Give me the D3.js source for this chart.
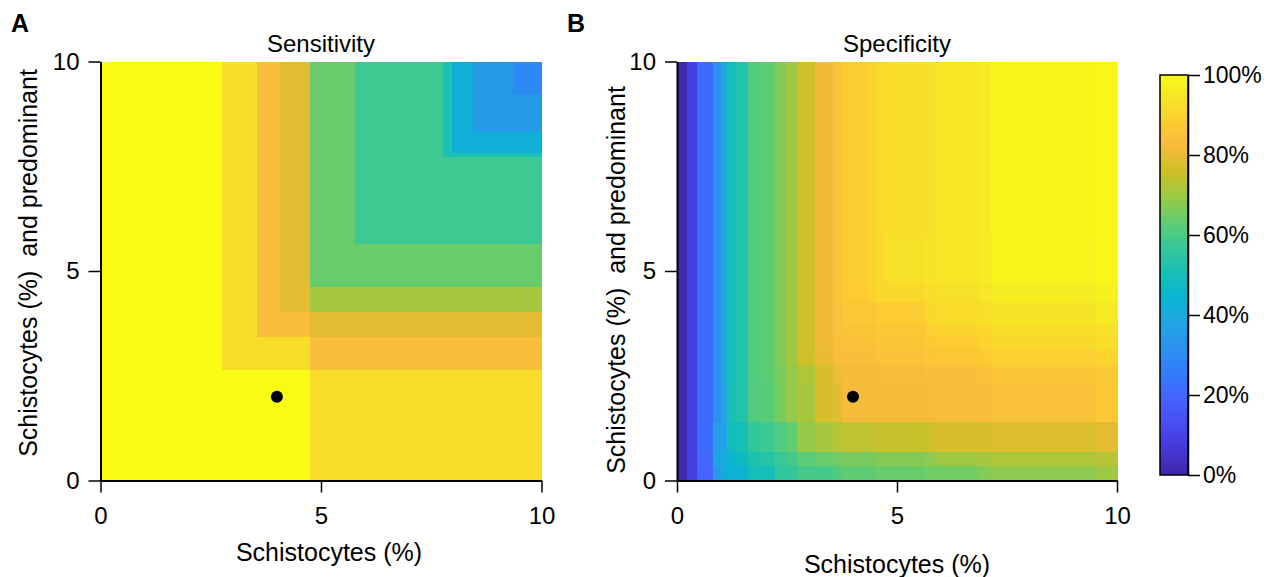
<!DOCTYPE html>
<html>
<head>
<meta charset="utf-8">
<script src="https://cdn.jsdelivr.net/npm/d3@7"></script>
<style>
  body { margin: 0; background: #fff; }
  svg text { font-family: "Liberation Sans", Arial, sans-serif; fill: #000; }
</style>
</head>
<body>
<div id="chart"></div>
<script>
// ---- data ----
// sensitivity: cell edges on each axis, values in % (rows from bottom)
const sensX = [0, 2.75, 3.56, 4.06, 4.75, 5.77, 7.77, 7.96, 8.45, 9.36, 10]
const sensY = [0, 2.64, 3.44, 4.03, 4.63, 5.65, 7.73, 7.84, 8.34, 9.24, 10]
const sensValues = [
  [100, 100, 100, 100, 92.5, 92.5, 92.5, 92.5, 92.5, 92.5],
  [100, 92.5, 92.5, 92.5, 84, 84, 84, 84, 84, 84],
  [100, 92.5, 84, 84, 79, 79, 79, 79, 79, 79],
  [100, 92.5, 84, 79, 71, 71, 71, 71, 71, 71],
  [100, 92.5, 84, 79, 64, 64, 64, 64, 64, 64],
  [100, 92.5, 84, 79, 64, 58, 58, 58, 58, 58],
  [100, 92.5, 84, 79, 64, 58, 51, 51, 51, 51],
  [100, 92.5, 84, 79, 64, 58, 51, 42, 42, 42],
  [100, 92.5, 84, 79, 64, 58, 51, 42, 35, 35],
  [100, 92.5, 84, 79, 64, 58, 51, 42, 35, 29]
]

// specificity
const specX = [0, 0.22, 0.45, 0.82, 1.01, 1.13, 1.35, 1.62, 1.92, 2.22, 2.48, 2.72, 3.13, 3.55, 3.74, 4.34, 4.53, 4.74, 5.63, 5.86, 6.84, 7.14, 9.53, 10]
const specY = [0, 0.35, 0.69, 1.42, 2.33, 2.76, 3.15, 3.43, 3.75, 4.27, 4.74, 5.86, 10]
const specValues = [
  [1, 9, 19, 34, 42, 43, 43, 50, 50, 56, 56, 59, 59, 61, 63, 63, 64, 64, 65, 65, 67, 68, 70],
  [1, 9, 20, 39, 40, 45, 47, 52, 54, 57, 59, 62, 64, 65, 66, 66, 67, 67, 68, 70, 71, 72, 73],
  [1, 9, 21, 36, 37, 49, 50, 56, 58, 61, 63, 69, 71, 73, 74, 74, 75, 75, 76, 77, 77, 78, 79],
  [1, 9, 21, 31, 38, 51, 53, 61, 62, 66, 69, 71, 77, 79, 82, 82, 82, 82, 83, 83, 83.5, 85, 86.5],
  [1, 9, 21, 31, 39, 50, 53, 61, 63, 66, 69, 72, 77, 81, 82, 82, 83, 83, 84, 84, 85, 86, 87],
  [1, 9, 21, 31, 39, 50, 53, 61, 63, 67, 70, 76, 80, 83.5, 84, 84, 85, 85, 86, 86.5, 87.5, 89, 90],
  [1, 9, 21, 31, 39, 50, 53, 61, 63, 67, 70, 76, 81, 84, 85, 85, 86, 86, 87, 88, 89.5, 91, 92.5],
  [1, 9, 21, 31, 39, 50, 53, 61, 63, 67, 70, 76, 81, 84.5, 85.5, 85.5, 86.5, 86.5, 89, 90, 91, 92.5, 93.5],
  [1, 9, 21, 31, 39, 50, 53, 61, 63, 67, 70, 76, 81, 84.5, 86.5, 86.5, 88, 88, 91.5, 92, 93, 94, 95.5],
  [1, 9, 21, 31, 39, 50, 53, 61, 63, 67, 70, 76, 81, 85, 88, 89.5, 91.5, 91.5, 92.5, 93, 94.5, 96, 97.5],
  [1, 9, 21, 31, 39, 50, 53, 61, 63, 67, 70, 76, 81, 85, 88.5, 90, 91, 93, 94, 94.5, 96, 98, 99],
  [1, 9, 21, 31, 39, 50, 53, 61, 63, 67, 70, 76, 81, 85, 88.5, 90, 91, 92.5, 93, 94.5, 96, 98.5, 99]
]

const marker = [4, 2]
const axisTicks = [0, 5, 10]
const colorTicks = [0, 20, 40, 60, 80, 100]

// parula colormap (every 4th row of the 64 entry table)
const PARULA = [
  [0.2422, 0.1504, 0.6603], [0.2706, 0.2147, 0.8364], [0.2813, 0.3006, 0.9414],
  [0.2699, 0.3892, 0.9906], [0.1963, 0.4847, 0.9892], [0.1687, 0.5703, 0.9359],
  [0.1248, 0.6459, 0.8883], [0.0297, 0.7082, 0.8163], [0.0964, 0.7500, 0.7120],
  [0.2161, 0.7843, 0.5923], [0.3909, 0.8029, 0.4354], [0.6174, 0.7876, 0.2612],
  [0.8203, 0.7498, 0.1535], [0.9728, 0.7298, 0.2394], [0.9892, 0.8136, 0.1885],
  [0.9597, 0.9135, 0.1423], [0.9769, 0.9839, 0.0805]
]
const parulaPos = PARULA.map((_, i) => Math.min(i * 4, 63) / 63 * 100)
const color = d3.scaleLinear()
  .domain(parulaPos)
  .range(PARULA.map(c => d3.rgb(c[0] * 255, c[1] * 255, c[2] * 255)))
  .interpolate(d3.interpolateRgb)
  .clamp(true)

const W = 1271, H = 577
const svg = d3.select('#chart').append('svg')
  .attr('width', W).attr('height', H)

function panel (opts) {
  const x = d3.scaleLinear().domain([0, 10]).range([opts.left, opts.right])
  const y = d3.scaleLinear().domain([0, 10]).range([480.5, 61.5])
  const g = svg.append('g')

  // heatmap cells
  const cells = []
  opts.values.forEach((row, j) => row.forEach((v, i) => {
    cells.push({ x0: opts.xb[i], x1: opts.xb[i + 1], y0: opts.yb[j], y1: opts.yb[j + 1], v })
  }))
  g.append('g').selectAll('rect')
    .data(cells)
    .join('rect')
      .attr('x', d => x(d.x0))
      .attr('y', d => y(d.y1))
      .attr('width', d => x(d.x1) - x(d.x0) + 0.5)
      .attr('height', d => y(d.y0) - y(d.y1) + 0.5)
      .attr('fill', d => color(d.v))
      .attr('shape-rendering', 'crispEdges')

  g.append('circle')
    .attr('cx', x(marker[0]))
    .attr('cy', y(marker[1]))
    .attr('r', 6)
    .attr('fill', '#000')

  const xAxis = g.append('g')
    .attr('transform', `translate(0,${y(0)})`)
    .call(d3.axisBottom(x).tickValues(axisTicks).tickSize(12).tickSizeOuter(0).tickPadding(14))
  const yAxis = g.append('g')
    .attr('transform', `translate(${x(0)},0)`)
    .call(d3.axisLeft(y).tickValues(axisTicks).tickSize(12).tickSizeOuter(0).tickPadding(9))
  for (const a of [xAxis, yAxis]) {
    a.select('.domain').attr('stroke-width', 2)
    a.selectAll('.tick line').attr('stroke-width', 1.5)
    a.selectAll('.tick text').attr('font-size', 24).attr('font-family', '"Liberation Sans", Arial, sans-serif')
  }

  g.append('text')
    .attr('x', (opts.left + opts.right) / 2).attr('y', 52)
    .attr('text-anchor', 'middle').attr('font-size', 24)
    .text(opts.title)
  g.append('text')
    .attr('x', opts.xLabelX).attr('y', opts.xLabelY)
    .attr('text-anchor', 'middle').attr('font-size', 25)
    .text('Schistocytes (%)')
  g.append('text')
    .attr('transform', `translate(${opts.yLabelX},${opts.yLabelY}) rotate(-90)`)
    .attr('text-anchor', 'middle').attr('font-size', 25)
    .attr('xml:space', 'preserve')
    .text('Schistocytes (%)  and predominant')
  g.append('text')
    .attr('x', opts.tagX).attr('y', 32)
    .attr('font-size', 25).attr('font-weight', 'bold')
    .text(opts.tag)
}

panel({
  left: 100.5, right: 541.5, xb: sensX, yb: sensY, values: sensValues,
  title: 'Sensitivity', tag: 'A', tagX: 11,
  xLabelX: 329, xLabelY: 561, yLabelX: 37, yLabelY: 263
})
panel({
  left: 677, right: 1117, xb: specX, yb: specY, values: specValues,
  title: 'Specificity', tag: 'B', tagX: 567,
  xLabelX: 897, xLabelY: 573, yLabelX: 625, yLabelY: 280
})

// colorbar
const cb = { x: 1160, w: 28, top: 75, bottom: 475 }
const cScale = d3.scaleLinear().domain([0, 100]).range([cb.bottom, cb.top])
const defs = svg.append('defs')
const grad = defs.append('linearGradient')
  .attr('id', 'parula-grad')
  .attr('x1', 0).attr('y1', 1).attr('x2', 0).attr('y2', 0)
grad.selectAll('stop')
  .data(parulaPos)
  .join('stop')
    .attr('offset', d => d + '%')
    .attr('stop-color', d => color(d))
svg.append('rect')
  .attr('x', cb.x).attr('y', cb.top)
  .attr('width', cb.w).attr('height', cb.bottom - cb.top)
  .attr('fill', 'url(#parula-grad)')
  .attr('stroke', '#000').attr('stroke-width', 1.5)
const cAxis = svg.append('g')
  .attr('transform', `translate(${cb.x + cb.w},0)`)
  .call(d3.axisRight(cScale).tickValues(colorTicks).tickFormat(d => d + '%').tickSize(12).tickSizeOuter(0).tickPadding(3))
cAxis.select('.domain').attr('stroke-width', 1.5)
cAxis.selectAll('.tick line').attr('stroke-width', 1.5)
cAxis.selectAll('.tick text').attr('font-size', 23).attr('font-family', '"Liberation Sans", Arial, sans-serif')
</script>
</body>
</html>
